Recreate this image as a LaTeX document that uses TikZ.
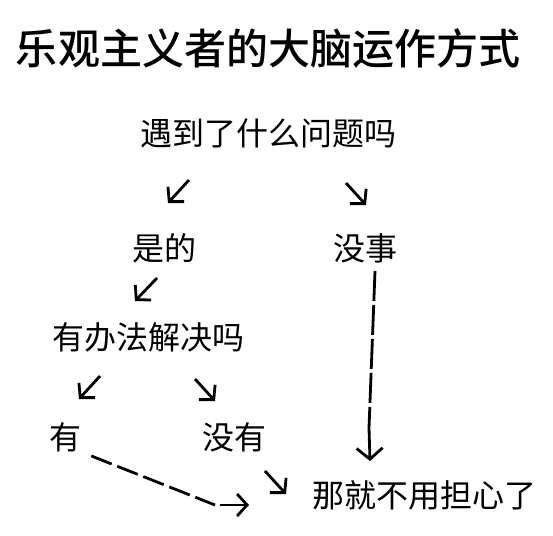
\documentclass[tikz,border=0pt]{standalone}
\usepackage{fontspec}
\newfontfamily\cjk{Noto Sans CJK SC}
\newfontfamily\cjkmed{Noto Sans CJK SC Medium}
\usepackage{tikz}
\usetikzlibrary{positioning,arrows.meta}

\begin{document}
\begin{tikzpicture}[x=1pt,y=-1pt,
    every node/.style={inner sep=0pt, font=\cjk\fontsize{32}{36}\selectfont},
    arr/.style={line width=2.8pt, -{Straight Barb[length=10pt,width=22pt]}},
    dashline/.style={line width=2.8pt, dash pattern=on 30pt off 4pt}]
  \useasboundingbox[fill=white] (0,0) rectangle (553,535);

  \node[font=\cjkmed\fontsize{42}{46}\selectfont] (title) at (268,48) {乐观主义者的大脑运作方式};

  \node (q) at (268,133) {遇到了什么问题吗};
  \node (shi) at (164,248) {是的};
  \node (meishi) at (365,248) {没事};
  \node (fa) at (148,337) {有办法解决吗};
  \node (you) at (65,437) {有};
  \node (meiyou) at (234,437) {没有};
  \node (danxin) at (424,495) {那就不用担心了};

  % small arrows
  \coordinate (a1) at (189,180);
  \coordinate (a2) at (346,183);
  \coordinate (a3) at (157,278);
  \coordinate (a4) at (100,376);
  \coordinate (a5) at (195,379);
  \coordinate (a6) at (265,471);
  \draw[arr] (a1) -- +(-21,23);
  \draw[arr] (a2) -- +(20,22);
  \draw[arr] (a3) -- +(-22,23);
  \draw[arr] (a4) -- +(-21,23);
  \draw[arr] (a5) -- +(20,22);
  \draw[arr] (a6) -- +(21,23);

  % no problem
  \coordinate (v1) at (369,428);
  \coordinate (v2) at (370,461);
  \draw[dashline] (meishi.south) ++(10,8) -- (v1);
  \draw[arr, -{Straight Barb[length=11pt,width=26pt]}] (v1) -- (v2);

  % can be solved
  \coordinate (d1) at (215,505);
  \coordinate (d2) at (220,505);
  \coordinate (d3) at (249,505);
  \draw[line width=2.8pt, dash pattern=on 22pt off 6pt] (you.south east) ++(10,4) -- (d1);
  \draw[arr] (d2) -- (d3);
\end{tikzpicture}
\end{document}
